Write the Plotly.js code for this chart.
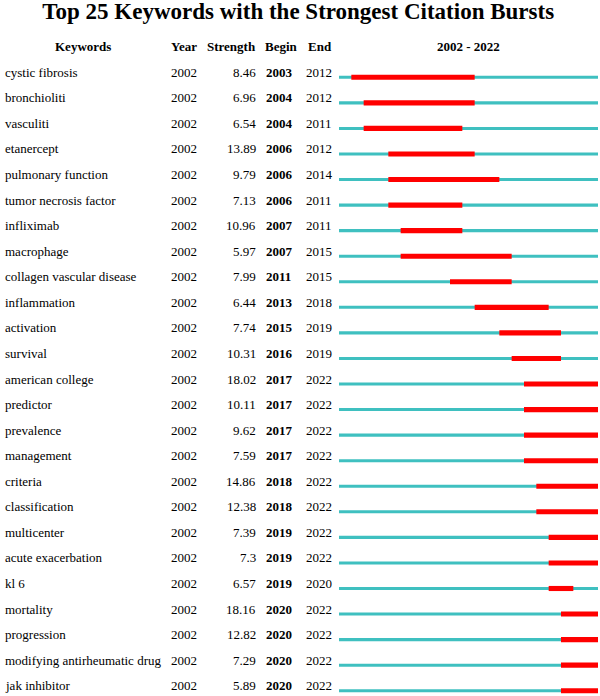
<!DOCTYPE html>
<html>
<head>
<meta charset="utf-8">
<script src="https://cdn.plot.ly/plotly-3.0.1.min.js"></script>
<style>
  html, body { margin: 0; padding: 0; background: #fff; }
  #chart { width: 600px; height: 696px; }
</style>
</head>
<body>
<div id="chart"></div>
<script>
// keyword bursts
const keywords = [
  "cystic fibrosis", "bronchioliti", "vasculiti", "etanercept",
  "pulmonary function", "tumor necrosis factor", "infliximab", "macrophage",
  "collagen vascular disease", "inflammation", "activation", "survival",
  "american college", "predictor", "prevalence", "management",
  "criteria", "classification", "multicenter", "acute exacerbation",
  "kl 6", "mortality", "progression", "modifying antirheumatic drug",
  "jak inhibitor",
];
const years = keywords.map(() => 2002);
const strength = [
  8.46, 6.96, 6.54, 13.89, 9.79, 7.13, 10.96, 5.97, 7.99, 6.44, 7.74, 10.31,
  18.02, 10.11, 9.62, 7.59, 14.86, 12.38, 7.39, 7.3, 6.57, 18.16, 12.82, 7.29,
  5.89,
];
const begin = [
  2003, 2004, 2004, 2006, 2006, 2006, 2007, 2007, 2011, 2013, 2015, 2016,
  2017, 2017, 2017, 2017, 2018, 2018, 2019, 2019, 2019, 2020, 2020, 2020,
  2020,
];
const end = [
  2012, 2012, 2011, 2012, 2014, 2011, 2011, 2015, 2015, 2018, 2019, 2019,
  2022, 2022, 2022, 2022, 2022, 2022, 2022, 2022, 2020, 2022, 2022, 2022,
  2022,
];
const firstYear = 2002;
const lastYear = 2022;

const rows = keywords.map((k, i) => i);
const FONT = "Liberation Serif, Times New Roman, serif";

// full timeline (cyan) and burst period (red)
const timeline = {
  type: "bar",
  orientation: "h",
  y: rows,
  x: rows.map(() => lastYear + 1 - firstYear),
  base: rows.map(() => firstYear),
  width: 0.12,
  marker: { color: "#3fc0c0", line: { width: 0 } },
  hoverinfo: "skip",
  showlegend: false,
};
const bursts = {
  type: "bar",
  orientation: "h",
  y: rows,
  x: rows.map((i) => end[i] + 1 - begin[i]),
  base: begin,
  width: 0.2,
  marker: { color: "#ff0000", line: { width: 0 } },
  hoverinfo: "skip",
  showlegend: false,
};

// table text
const annotations = [];
function cell(text, x, y, anchor, bold) {
  annotations.push({
    text: bold ? `<b>${text}</b>` : text,
    xref: "paper",
    yref: "y",
    x: x / 600,
    y: y,
    xanchor: anchor,
    yanchor: "middle",
    yshift: 5,
    showarrow: false,
    borderpad: 0,
    font: { family: FONT, size: 13, color: "#000" },
  });
}
rows.forEach((i) => {
  cell(keywords[i], 4, i, "left", false);
  cell(String(years[i]), 170, i, "left", false);
  cell(String(strength[i]), 257, i, "right", false);
  cell(String(begin[i]), 265, i, "left", true);
  cell(String(end[i]), 305, i, "left", false);
});

function header(text, x, anchor) {
  annotations.push({
    text: `<b>${text}</b>`,
    xref: "paper",
    yref: "paper",
    x: x / 600,
    y: 1 - 46.5 / 696,
    xanchor: anchor,
    yanchor: "middle",
    showarrow: false,
    borderpad: 0,
    font: { family: FONT, size: 13, color: "#000" },
  });
}
header("Keywords", 82.5, "center");
header("Year", 170, "left");
header("Strength", 206, "left");
header("Begin", 264, "left");
header("End", 307, "left");
header(`${firstYear} - ${lastYear}`, 468, "center");

const layout = {
  width: 600,
  height: 696,
  margin: { l: 0, r: 0, t: 0, b: 0 },
  paper_bgcolor: "#fff",
  plot_bgcolor: "#fff",
  barmode: "overlay",
  title: {
    text: "<b>Top 25 Keywords with the Strongest Citation Bursts</b>",
    x: 0.497,
    xanchor: "center",
    y: 1 - 11 / 696,
    yanchor: "middle",
    font: { family: FONT, size: 23, color: "#000" },
  },
  xaxis: {
    domain: [339 / 600, 598 / 600],
    range: [firstYear, lastYear + 1],
    visible: false,
    fixedrange: true,
  },
  yaxis: {
    domain: [0, 1],
    range: [24.206, -3.024],
    visible: false,
    fixedrange: true,
  },
  annotations: annotations,
};

Plotly.newPlot("chart", [timeline, bursts], layout, {
  displayModeBar: false,
  staticPlot: true,
});
</script>
</body>
</html>
